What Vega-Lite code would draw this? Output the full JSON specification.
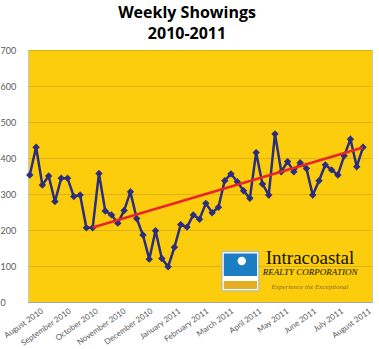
{
  "$schema": "https://vega.github.io/schema/vega-lite/v6.json",
  "width": 344,
  "height": 252,
  "autosize": {"type": "none"},
  "padding": {"left": 28, "top": 50, "right": 7, "bottom": 47},
  "background": "white",
  "title": {
    "text": ["Weekly Showings", "2010-2011"],
    "font": "Open Sans",
    "fontSize": 16,
    "fontWeight": "bold",
    "color": "#000000",
    "anchor": "middle",
    "dx": -13,
    "offset": 4,
    "lineHeight": 21
  },
  "config": {
    "view": {"fill": "#FCCD0C", "stroke": "#C8C8C8", "strokeWidth": 1},
    "axis": {"labelFont": "Lato", "labelColor": "#595959", "title": null}
  },
  "datasets": {
    "weekly": [
      {"date": "2010-08-01", "value": 353},
      {"date": "2010-08-08", "value": 430},
      {"date": "2010-08-15", "value": 325},
      {"date": "2010-08-22", "value": 350},
      {"date": "2010-08-29", "value": 279},
      {"date": "2010-09-05", "value": 344},
      {"date": "2010-09-12", "value": 344},
      {"date": "2010-09-19", "value": 293},
      {"date": "2010-09-26", "value": 297},
      {"date": "2010-10-03", "value": 206},
      {"date": "2010-10-10", "value": 206},
      {"date": "2010-10-17", "value": 357},
      {"date": "2010-10-24", "value": 253},
      {"date": "2010-10-31", "value": 242},
      {"date": "2010-11-07", "value": 219},
      {"date": "2010-11-14", "value": 254},
      {"date": "2010-11-21", "value": 306},
      {"date": "2010-11-28", "value": 232},
      {"date": "2010-12-05", "value": 186},
      {"date": "2010-12-12", "value": 119},
      {"date": "2010-12-19", "value": 198},
      {"date": "2010-12-26", "value": 121},
      {"date": "2011-01-02", "value": 98},
      {"date": "2011-01-09", "value": 152},
      {"date": "2011-01-16", "value": 215},
      {"date": "2011-01-23", "value": 208},
      {"date": "2011-01-30", "value": 242},
      {"date": "2011-02-06", "value": 230},
      {"date": "2011-02-13", "value": 274},
      {"date": "2011-02-20", "value": 248},
      {"date": "2011-02-27", "value": 263},
      {"date": "2011-03-06", "value": 337},
      {"date": "2011-03-13", "value": 356},
      {"date": "2011-03-20", "value": 334},
      {"date": "2011-03-27", "value": 309},
      {"date": "2011-04-03", "value": 288},
      {"date": "2011-04-10", "value": 415},
      {"date": "2011-04-17", "value": 328},
      {"date": "2011-04-24", "value": 297},
      {"date": "2011-05-01", "value": 467},
      {"date": "2011-05-08", "value": 362},
      {"date": "2011-05-15", "value": 390},
      {"date": "2011-05-22", "value": 362},
      {"date": "2011-05-29", "value": 387},
      {"date": "2011-06-05", "value": 371},
      {"date": "2011-06-12", "value": 297},
      {"date": "2011-06-19", "value": 337},
      {"date": "2011-06-26", "value": 381},
      {"date": "2011-07-03", "value": 367},
      {"date": "2011-07-10", "value": 353},
      {"date": "2011-07-17", "value": 406},
      {"date": "2011-07-24", "value": 452},
      {"date": "2011-07-31", "value": 376},
      {"date": "2011-08-07", "value": 430}
    ],
    "trend": [
      {"date": "2010-10-10", "value": 207},
      {"date": "2011-08-07", "value": 429}
    ],
    "logo": [
      {"part": "frame", "date": "2011-03-03", "date2": "2011-04-13", "value": 140, "value2": 31},
      {"part": "blue", "date": "2011-03-05", "date2": "2011-04-11", "value": 135, "value2": 72},
      {"part": "gold", "date": "2011-03-05", "date2": "2011-04-11", "value": 58, "value2": 36},
      {"part": "dot", "date": "2011-03-25", "value": 114},
      {"part": "name", "date": "2011-06-09", "value": 105, "label": "Intracoastal"},
      {"part": "sub", "date": "2011-06-09", "value": 75, "label": "REALTY CORPORATION"},
      {"part": "tag", "date": "2011-06-09", "value": 36, "label": "Experience the Exceptional"}
    ]
  },
  "encoding": {
    "x": {
      "field": "date", "type": "temporal", "title": null,
      "scale": {"domain": ["2010-07-30", "2011-08-17"]},
      "axis": {
        "format": "%B %Y",
        "tickCount": {"interval": "month", "step": 1},
        "labelFontSize": 8,
        "labelAngle": -35,
        "labelAlign": "right",
        "labelBaseline": "top",
        "labelPadding": 5,
        "labelOffset": 10,
        "labelOverlap": false,
        "labelFlush": false,
        "labelBound": false,
        "ticks": false,
        "grid": false,
        "domainColor": "#A6A6A6"
      }
    },
    "y": {
      "field": "value", "type": "quantitative", "title": null,
      "scale": {"domain": [0, 700], "nice": false},
      "axis": {
        "tickCount": 8,
        "labelFontSize": 9,
        "labelOverlap": false,
        "labelBound": false,
        "labelFlush": false,
        "domain": false,
        "ticks": false,
        "tickSize": 0,
        "labelAlign": "left",
        "labelBaseline": "middle",
        "labelPadding": 28,
        "grid": true,
        "gridColor": "#DDB21C",
        "gridWidth": 1
      }
    }
  },
  "layer": [
    {
      "data": {"name": "weekly"},
      "mark": {"type": "line", "color": "#2B2E7E", "strokeWidth": 2.5, "point": {"shape": "diamond", "size": 55, "filled": true, "color": "#2B2E7E"}}
    },
    {
      "data": {"name": "trend"},
      "mark": {"type": "line", "color": "#E8252B", "strokeWidth": 2.5}
    },
    {
      "data": {"name": "logo"},
      "transform": [{"filter": "datum.part == 'frame'"}],
      "mark": {"type": "rect", "fill": "#FFFFFF", "stroke": "#9FB3C8", "strokeWidth": 1},
      "encoding": {"x2": {"field": "date2"}, "y2": {"field": "value2"}}
    },
    {
      "data": {"name": "logo"},
      "transform": [{"filter": "datum.part == 'blue'"}],
      "mark": {"type": "rect", "fill": "#1B7DC2"},
      "encoding": {"x2": {"field": "date2"}, "y2": {"field": "value2"}}
    },
    {
      "data": {"name": "logo"},
      "transform": [{"filter": "datum.part == 'gold'"}],
      "mark": {"type": "rect", "fill": "#E3AE22"},
      "encoding": {"x2": {"field": "date2"}, "y2": {"field": "value2"}}
    },
    {
      "data": {"name": "logo"},
      "transform": [{"filter": "datum.part == 'dot'"}],
      "mark": {"type": "point", "shape": "circle", "filled": true, "color": "#FFFFFF", "opacity": 1, "size": 70}
    },
    {
      "data": {"name": "logo"},
      "transform": [{"filter": "datum.part == 'name'"}],
      "mark": {"type": "text", "font": "Liberation Serif", "fontSize": 19, "color": "#111111", "align": "center", "baseline": "alphabetic"},
      "encoding": {"text": {"field": "label"}}
    },
    {
      "data": {"name": "logo"},
      "transform": [{"filter": "datum.part == 'sub'"}],
      "mark": {"type": "text", "font": "Liberation Serif", "fontSize": 9, "fontStyle": "italic", "color": "#111111", "align": "center", "baseline": "alphabetic"},
      "encoding": {"text": {"field": "label"}}
    },
    {
      "data": {"name": "logo"},
      "transform": [{"filter": "datum.part == 'tag'"}],
      "mark": {"type": "text", "font": "Liberation Serif", "fontSize": 7, "fontStyle": "italic", "color": "#8A6A2A", "align": "center", "baseline": "alphabetic"},
      "encoding": {"text": {"field": "label"}}
    }
  ]
}
